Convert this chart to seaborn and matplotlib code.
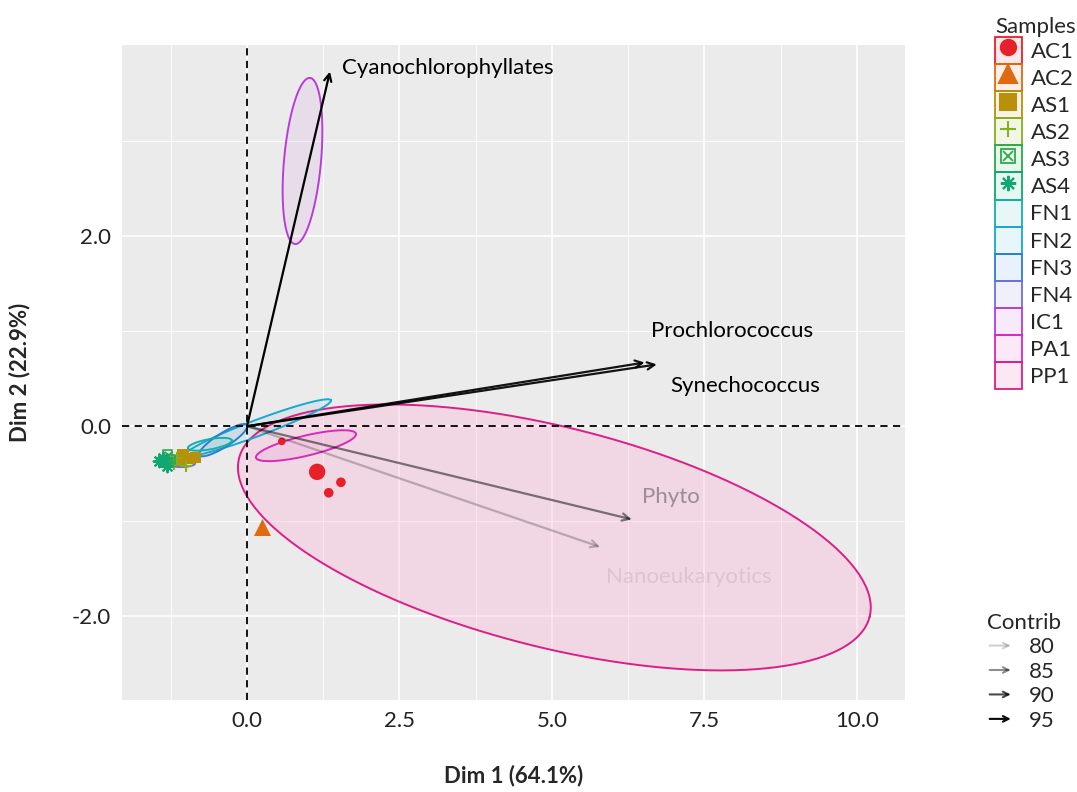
import numpy as np
import pandas as pd
import matplotlib
matplotlib.use("Agg")
import matplotlib.pyplot as plt
import seaborn as sns
from matplotlib.patches import Patch, FancyArrowPatch
from matplotlib.lines import Line2D
from matplotlib.legend_handler import HandlerTuple, HandlerBase

# samples (individuals)
samples = ["AC1", "AC2", "AS1", "AS2", "AS3", "AS4", "FN1", "FN2", "FN3", "FN4", "IC1", "PA1", "PP1"]
sample_colors = ["#E8202A", "#E06A10", "#B8900A", "#84B01C", "#2EA84A", "#10A870", "#14B0A8",
                 "#18A8D0", "#2C7CD0", "#7070D8", "#B83CD8", "#D82ABA", "#DC1E86"]

pt_sample = ["AC1"] * 4 + ["AC2"] + ["AS1"] * 4 + ["AS2"] * 3 + ["AS3"] * 3 + ["AS4"] * 3
pt_x = [0.57, 1.15, 1.54, 1.34, 0.25,
        -1.05, -0.95, -0.85, -1.10,
        -1.20, -1.15, -1.00,
        -1.30, -1.25, -1.35,
        -1.45, -1.38, -1.32]
pt_y = [-0.16, -0.48, -0.59, -0.70, -1.06,
        -0.30, -0.34, -0.33, -0.36,
        -0.40, -0.33, -0.42,
        -0.30, -0.35, -0.38,
        -0.37, -0.33, -0.42]
pt_cos2 = [0.3, 0.9, 0.4, 0.4, 0.9,
           0.5, 0.5, 0.5, 0.5,
           0.5, 0.5, 0.5,
           0.5, 0.5, 0.5,
           0.6, 0.6, 0.6]

# concentration ellipses: centre, major and minor semi-axis vectors
ell_sample = ["PP1", "PA1", "IC1", "FN2", "FN3", "FN1", "FN4"]
ell_cx = [5.04, 0.967, 0.91, 0.18, -0.39, -0.61, -1.08]
ell_cy = [-1.17, -0.205, 2.79, -0.016, -0.147, -0.19, -0.39]
ell_ax = [5.17, 0.820, 0.123, 1.197, 0.39, 0.36, 0.23]
ell_ay = [-0.834, 0.126, 0.874, 0.289, 0.158, 0.042, 0.0]
ell_bx = [-0.439, 0.0387, 0.302, 0.046, 0.061, 0.016, 0.0]
ell_by = [-1.123, -0.103, -0.018, -0.079, -0.062, -0.053, 0.04]

# variables
var_names = ["Cyanochlorophyllates", "Prochlorococcus", "Synechococcus", "Phyto", "Nanoeukaryotics"]
var_x = [1.36, 6.72, 6.52, 6.31, 5.79]
var_y = [3.73, 0.65, 0.67, -0.98, -1.27]
var_contrib = [96, 94, 94, 86, 81]

contrib_levels = [80, 85, 90, 95]


def contrib_alpha(c):
    return float(np.clip((c - 76.5) / 19, 0.12, 1.0))


color_of = dict(zip(samples, sample_colors))
markers = {"AC1": "o", "AC2": "^", "AS1": "s", "AS2": "+", "AS3": "s", "AS4": (8, 2, 0)}

sns.set_theme(style="darkgrid", rc={"axes.facecolor": "#EBEBEB", "grid.color": "white",
                                    "grid.linewidth": 1.2})
plt.rcParams["font.family"] = ["Lato", "DejaVu Sans"]

fig = plt.figure(figsize=(10.77, 7.92), dpi=100)
ax = fig.add_axes([122 / 1077, 92 / 792, 783 / 1077, 655 / 792])

# ellipses
t = np.linspace(0, 2 * np.pi, 300)
for i, s in enumerate(ell_sample):
    ex = ell_cx[i] + ell_ax[i] * np.cos(t) + ell_bx[i] * np.sin(t)
    ey = ell_cy[i] + ell_ay[i] * np.cos(t) + ell_by[i] * np.sin(t)
    if s == "PP1":
        ax.fill(ex, ey, color="#FFB3D6", alpha=0.35, lw=0, zorder=2)
    else:
        ax.fill(ex, ey, color=color_of[s], alpha=0.08, lw=0, zorder=2)
    ax.plot(ex, ey, color=color_of[s], lw=1.4, zorder=3)

ax.axhline(0, color="black", ls=(0, (4, 3)), lw=1.3, zorder=4)
ax.axvline(0, color="black", ls=(0, (4, 3)), lw=1.3, zorder=4)

# points
df = pd.DataFrame({"dim1": pt_x, "dim2": pt_y, "sample": pt_sample, "cos2": pt_cos2})
for s, sub in df.groupby("sample", sort=False):
    col = color_of[s]
    m = markers[s]
    if s == "AS3":
        sns.scatterplot(data=sub, x="dim1", y="dim2", marker="s", s=45, facecolor="none",
                        edgecolor=col, linewidth=1.2, ax=ax, zorder=5, legend=False)
        sns.scatterplot(data=sub, x="dim1", y="dim2", marker="x", s=30, color=col,
                        linewidth=1.2, ax=ax, zorder=5, legend=False)
    elif m == "+" or isinstance(m, tuple):
        sns.scatterplot(data=sub, x="dim1", y="dim2", marker=m, s=70, color=col,
                        linewidth=1.5, ax=ax, zorder=5, legend=False)
    else:
        sns.scatterplot(data=sub, x="dim1", y="dim2", marker=m, size="cos2",
                        sizes=(30, 140) if s != "AC2" else (150, 150), size_norm=(0.3, 0.9),
                        color=col, edgecolor=col, linewidth=0, ax=ax, zorder=5, legend=False)

# variable arrows and labels
label_off = {"Cyanochlorophyllates": (12, 4, "left"), "Prochlorococcus": (75, 33, "center"),
             "Synechococcus": (101, -23, "center"), "Phyto": (39, 22, "center"),
             "Nanoeukaryotics": (89, -30, "center")}
for name, x, y, c in zip(var_names, var_x, var_y, var_contrib):
    a = contrib_alpha(c)
    ax.annotate("", xy=(x, y), xytext=(0, 0),
                arrowprops=dict(arrowstyle="->", color="black", alpha=a, lw=1.6,
                                shrinkA=0, shrinkB=0, mutation_scale=13), zorder=6)
    dx, dy, ha = label_off[name]
    ta = 1.0 if a > 0.9 else max(a - 0.15, 0.07)
    ax.annotate(name, xy=(x, y), xytext=(dx, dy), textcoords="offset pixels",
                ha=ha, va="center", fontsize=16, color="black", alpha=ta, zorder=7)

ax.set_xlim(-2.05, 10.79)
ax.set_ylim(-2.88, 4.01)
ax.set_xticks([0, 2.5, 5, 7.5, 10])
ax.set_xticklabels(["0.0", "2.5", "5.0", "7.5", "10.0"])
ax.set_yticks([-2, 0, 2])
ax.set_yticklabels(["-2.0", "0.0", "2.0"])
ax.set_xticks([-1.25, 1.25, 3.75, 6.25, 8.75], minor=True)
ax.set_yticks([-1, 1, 3], minor=True)
ax.grid(which="minor", color="white", lw=0.6)
ax.tick_params(which="both", length=0, labelsize=16, labelcolor="#222222", pad=8)
ax.set_xlabel("Dim 1 (64.1%)", fontsize=16, fontweight="bold", labelpad=24)
ax.set_ylabel("Dim 2 (22.9%)", fontsize=16, fontweight="bold", labelpad=30)
for sp in ax.spines.values():
    sp.set_visible(False)

# Samples legend
handles = []
for s in samples:
    col = color_of[s]
    box = Patch(facecolor=matplotlib.colors.to_rgba(col, 0.1), edgecolor=col, lw=1.3)
    if s == "AS3":
        handles.append((box,
                        Line2D([], [], ls="", marker="s", ms=10, mfc="none", mec=col, mew=1.3),
                        Line2D([], [], ls="", marker="x", ms=7, mec=col, mew=1.3)))
    elif s in markers:
        ms = 13 if s == "AC2" else 11
        handles.append((box, Line2D([], [], ls="", marker=markers[s], ms=ms, color=col,
                                    mec=col, mew=1.5)))
    else:
        handles.append((box,))
leg1 = fig.legend(handles, samples, handler_map={tuple: HandlerTuple(ndivide=1, pad=0)},
                  loc="upper left", bbox_to_anchor=(986 / 1077, 1 - 8 / 792), frameon=False,
                  title="Samples", title_fontsize=16, fontsize=16, handlelength=1.2,
                  handleheight=1.5, labelspacing=0.0, handletextpad=0.4, borderaxespad=0)
leg1._legend_box.align = "left"


class ArrowHandler(HandlerBase):
    def create_artists(self, legend, orig_handle, xdescent, ydescent, width, height, fontsize, trans):
        y = height / 2 - ydescent
        arr = FancyArrowPatch((-xdescent, y), (-xdescent + width, y), arrowstyle="->",
                              mutation_scale=10, color="black", alpha=orig_handle.get_alpha(),
                              lw=1.5, transform=trans)
        return [arr]


chandles = [Line2D([], [], alpha=contrib_alpha(c)) for c in contrib_levels]
leg2 = fig.legend(chandles, [str(c) for c in contrib_levels], handler_map={Line2D: ArrowHandler()},
                  loc="upper left", bbox_to_anchor=(978 / 1077, 1 - 604 / 792), frameon=False,
                  title="Contrib", title_fontsize=16, fontsize=16, handlelength=1.2,
                  labelspacing=0.2, handletextpad=0.7, borderaxespad=0)
leg2._legend_box.align = "left"

fig.savefig("out.png", dpi=100)
